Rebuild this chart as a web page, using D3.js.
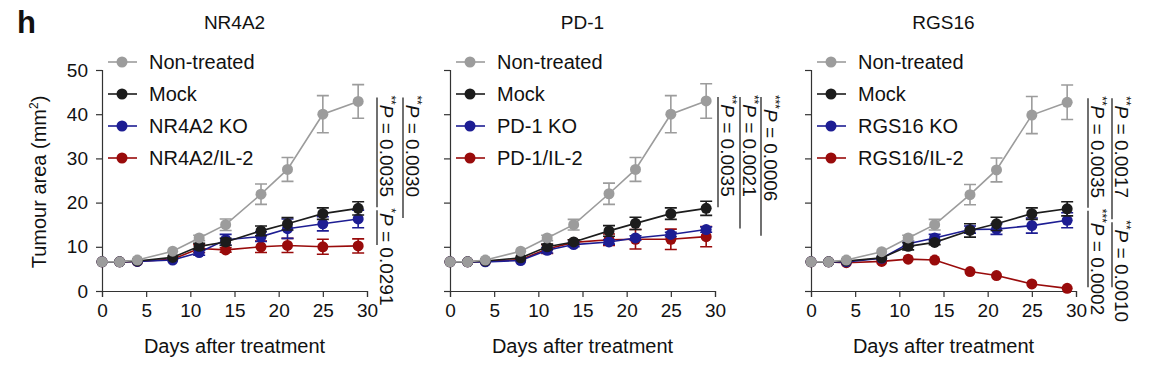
<!DOCTYPE html>
<html>
<head>
<meta charset="utf-8">
<script src="https://cdn.jsdelivr.net/npm/d3@7"></script>
<style>
  body { margin: 0; background: #fff; }
  text { font-family: "Liberation Sans", Arial, Helvetica, sans-serif; fill: #111; }
</style>
</head>
<body>
<script>
// Chart data
var days = [0, 2, 4, 8, 11, 14, 18, 21, 25, 29];
var groupNames = ["Non-treated", "Mock", "KO", "IL-2"];

// NR4A2 panel
var nr4a2NonTreated = [6.6, 6.6, 7.0, 9.0, 12.0, 15.0, 21.9, 27.5, 40.0, 42.9];
var nr4a2NonTreatedErr = [0.2, 0.2, 0.3, 0.4, 0.6, 1.3, 2.3, 2.7, 4.2, 3.8];
var nr4a2Mock = [6.6, 6.6, 6.8, 7.6, 10.1, 11.1, 13.6, 15.2, 17.5, 18.7];
var nr4a2MockErr = [0.2, 0.2, 0.2, 0.4, 0.7, 0.8, 1.1, 1.4, 1.3, 1.5];
var nr4a2KO = [6.6, 6.6, 6.7, 7.0, 8.7, 11.6, 12.3, 14.1, 15.2, 16.3];
var nr4a2KOErr = [0.2, 0.2, 0.2, 0.3, 0.6, 1.2, 1.1, 2.2, 1.6, 2.0];
var nr4a2IL2 = [6.6, 6.6, 6.7, 7.2, 9.6, 9.3, 10.0, 10.3, 10.0, 10.2];
var nr4a2IL2Err = [0.2, 0.2, 0.2, 0.3, 0.9, 0.5, 1.3, 1.6, 1.7, 1.6];

// PD-1 panel
var pd1NonTreated = [6.6, 6.6, 7.0, 9.0, 12.0, 15.0, 22.0, 27.5, 40.0, 43.0];
var pd1NonTreatedErr = [0.2, 0.2, 0.3, 0.4, 0.6, 1.2, 2.4, 2.7, 4.2, 3.9];
var pd1Mock = [6.6, 6.6, 6.8, 7.5, 10.0, 11.1, 13.6, 15.3, 17.5, 18.7];
var pd1MockErr = [0.2, 0.2, 0.2, 0.4, 0.6, 0.5, 1.2, 1.4, 1.3, 1.6];
var pd1KO = [6.6, 6.6, 6.6, 6.9, 9.2, 10.5, 11.1, 12.0, 12.8, 13.9];
var pd1KOErr = [0.2, 0.2, 0.2, 0.3, 0.6, 0.5, 0.5, 0.5, 0.5, 0.6];
var pd1IL2 = [6.6, 6.6, 6.7, 7.1, 9.5, 11.0, 11.6, 11.7, 11.7, 12.3];
var pd1IL2Err = [0.2, 0.2, 0.2, 0.3, 1.0, 0.6, 1.3, 2.2, 2.3, 2.3];

// RGS16 panel
var rgs16NonTreated = [6.6, 6.6, 7.0, 8.9, 12.0, 15.0, 21.8, 27.4, 39.8, 42.7];
var rgs16NonTreatedErr = [0.2, 0.2, 0.3, 0.4, 0.6, 1.2, 2.3, 2.7, 4.2, 3.9];
var rgs16Mock = [6.6, 6.6, 6.8, 7.5, 10.1, 11.0, 13.7, 15.2, 17.5, 18.6];
var rgs16MockErr = [0.2, 0.2, 0.2, 0.4, 0.8, 0.5, 1.5, 1.5, 1.3, 1.6];
var rgs16KO = [6.6, 6.6, 6.6, 7.4, 10.7, 12.0, 13.9, 14.0, 14.8, 16.0];
var rgs16KOErr = [0.2, 0.2, 0.2, 0.3, 0.6, 0.8, 0.8, 1.2, 1.7, 1.7];
var rgs16IL2 = [6.6, 6.6, 6.4, 6.7, 7.2, 7.0, 4.4, 3.5, 1.6, 0.6];
var rgs16IL2Err = [0.1, 0.1, 0.1, 0.2, 0.2, 0.2, 0.3, 0.3, 0.3, 0.2];

// Tick labels
var xTicks = [0, 5, 10, 15, 20, 25, 30];
var yTicks = [0, 10, 20, 30, 40, 50];

// Significance: [stars, P value, from group, to group, column]
var nr4a2Stats = [["**", "0.0035", 0, 1, 0], ["*", "0.0291", 1, 3, 0], ["**", "0.0030", 0, 2, 1]];
var pd1Stats = [["**", "0.0035", 0, 1, 0], ["**", "0.0021", 0, 2, 1], ["***", "0.0006", 0, 3, 2]];
var rgs16Stats = [["**", "0.0035", 0, 1, 0], ["***", "0.0002", 1, 3, 0], ["**", "0.0017", 0, 2, 1], ["**", "0.0010", 2, 3, 1]];

// Layout
var colours = ["#9c9c9c", "#1c1c1c", "#1d1d93", "#990b0b"];
var drawOrder = [3, 2, 1, 0];
var plotTop = 70, plotBottom = 291, plotWidth = 265;

var panels = [
  { gene: "NR4A2", left: 102, yLabels: true, colX: [275, 301], stats: nr4a2Stats,
    values: [nr4a2NonTreated, nr4a2Mock, nr4a2KO, nr4a2IL2],
    errors: [nr4a2NonTreatedErr, nr4a2MockErr, nr4a2KOErr, nr4a2IL2Err] },
  { gene: "PD-1", left: 450, yLabels: false, colX: [268, 290, 311], stats: pd1Stats,
    values: [pd1NonTreated, pd1Mock, pd1KO, pd1IL2],
    errors: [pd1NonTreatedErr, pd1MockErr, pd1KOErr, pd1IL2Err] },
  { gene: "RGS16", left: 811, yLabels: false, colX: [277, 301], stats: rgs16Stats,
    values: [rgs16NonTreated, rgs16Mock, rgs16KO, rgs16IL2],
    errors: [rgs16NonTreatedErr, rgs16MockErr, rgs16KOErr, rgs16IL2Err] }
];

var svg = d3.select("body")
            .append("svg")
            .attr("width", 1164)
            .attr("height", 376);

// panel letter
svg.append("text")
   .attr("x", 17)
   .attr("y", 33)
   .attr("font-size", "31px")
   .attr("font-weight", "bold")
   .text("h");

var xScale = d3.scaleLinear().domain([0, 30]).range([0, plotWidth]);
var yScale = d3.scaleLinear().domain([0, 50]).range([plotBottom, plotTop]);

panels.forEach(function(p) {
    var g = svg.append("g").attr("transform", `translate(${p.left}, 0)`);

    // title
    g.append("text")
     .attr("x", plotWidth / 2)
     .attr("y", 29)
     .attr("text-anchor", "middle")
     .attr("font-size", "19px")
     .text(p.gene);

    // axes
    var bottomAxis = d3.axisBottom(xScale).tickValues(xTicks).tickSize(6).tickPadding(7);
    var leftAxis = d3.axisLeft(yScale).tickValues(yTicks).tickSize(6).tickPadding(8);
    if (!p.yLabels) leftAxis.tickFormat("");

    var xa = g.append("g")
              .attr("transform", `translate(0, ${plotBottom})`)
              .call(bottomAxis);
    var ya = g.append("g").call(leftAxis);

    [xa, ya].forEach(function(a) {
        a.selectAll("path, line").attr("stroke", "#333").attr("stroke-width", 1.2);
        a.selectAll("text")
         .attr("font-size", "19px")
         .attr("font-family", "'Liberation Sans', Arial, sans-serif")
         .attr("fill", "#111");
    });

    g.append("text")
     .attr("x", plotWidth / 2)
     .attr("y", 353)
     .attr("text-anchor", "middle")
     .attr("font-size", "20px")
     .text("Days after treatment");

    // series, back to front
    drawOrder.forEach(function(i) {
        var pts = days.map((d, k) => ({ x: d, y: p.values[i][k], e: p.errors[i][k] }));
        var s = g.append("g");

        s.selectAll("line.err")
         .data(pts.filter(d => d.e >= 0.5))
         .enter()
         .append("path")
         .attr("d", d => {
             var cx = xScale(d.x), y1 = yScale(d.y + d.e), y2 = yScale(d.y - d.e);
             return `M${cx - 6},${y1}H${cx + 6}M${cx},${y1}V${y2}M${cx - 6},${y2}H${cx + 6}`;
         })
         .attr("stroke", colours[i])
         .attr("stroke-width", 1.6)
         .attr("fill", "none");

        s.append("path")
         .datum(pts)
         .attr("d", d3.line().x(d => xScale(d.x)).y(d => yScale(d.y)))
         .attr("stroke", colours[i])
         .attr("stroke-width", 1.6)
         .attr("fill", "none");

        s.selectAll("circle")
         .data(pts)
         .enter()
         .append("circle")
         .attr("cx", d => xScale(d.x))
         .attr("cy", d => yScale(d.y))
         .attr("r", 5.5)
         .attr("fill", colours[i]);
    });

    // legend
    var labels = ["Non-treated", "Mock", p.gene + " KO", p.gene + "/IL-2"];
    labels.forEach(function(lab, i) {
        var ly = 62 + i * 32;
        g.append("line")
         .attr("x1", 6).attr("x2", 35)
         .attr("y1", ly).attr("y2", ly)
         .attr("stroke", colours[i]).attr("stroke-width", 1.6);
        g.append("circle")
         .attr("cx", 20).attr("cy", ly).attr("r", 5.5)
         .attr("fill", colours[i]);
        g.append("text")
         .attr("x", 47)
         .attr("y", ly)
         .attr("dy", "0.36em")
         .attr("font-size", "20px")
         .text(lab);
    });

    // significance brackets, rotated text
    var last = p.values.map(v => v[v.length - 1]);
    p.stats.forEach(function(st) {
        var cx = p.colX[st[4]];
        var y1 = st[2] === 0 ? yScale(last[st[2]]) - 4 : yScale(last[st[2]]) + 2;
        var y2 = yScale(last[st[3]]) - 1;
        g.append("line")
         .attr("x1", cx).attr("x2", cx)
         .attr("y1", y1).attr("y2", y2)
         .attr("stroke", "#111").attr("stroke-width", 1.2);
        var t = g.append("text")
                 .attr("transform", `translate(${cx + 3}, ${y1 - 2}) rotate(90)`)
                 .attr("font-size", "19px");
        t.append("tspan").attr("font-size", "12px").attr("dy", "-7").text(st[0]);
        t.append("tspan").attr("font-style", "italic").attr("dy", "7").text("P");
        t.append("tspan").text(" = " + st[1]);
    });
});

// y axis title
svg.append("text")
   .attr("transform", `translate(46, 182) rotate(-90)`)
   .attr("text-anchor", "middle")
   .attr("font-size", "20px")
   .call(t => {
       t.append("tspan").text("Tumour area (mm");
       t.append("tspan").attr("font-size", "12px").attr("dy", "-8").text("2");
       t.append("tspan").attr("dy", "8").text(")");
   });
</script>
</body>
</html>
